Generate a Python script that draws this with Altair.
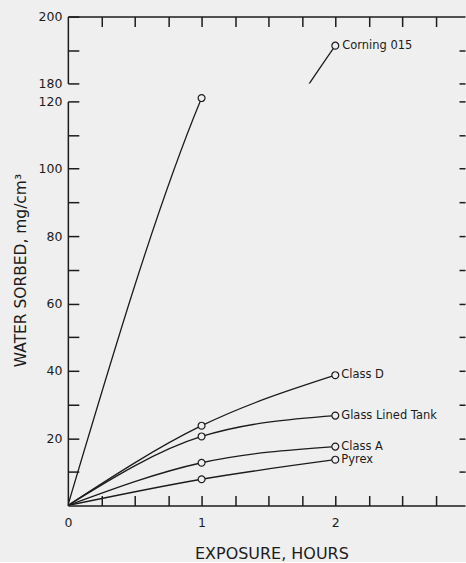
import altair as alt
import pandas as pd

# ---------------- data ----------------
hours = [0, 1, 2]
series_names = ["Corning 015", "Class D", "Glass Lined Tank", "Class A", "Pyrex"]
corning_015 = [0, 121.0, 191.3]
class_d = [0, 23.7, 38.7]
glass_lined_tank = [0, 20.5, 26.7]
class_a = [0, 12.7, 17.5]
pyrex = [0, 7.8, 13.6]
series_values = [corning_015, class_d, glass_lined_tank, class_a, pyrex]

# axis ticks / labels
x_tick_values = [0.25 * i for i in range(1, 12)]
x_label_values = [0, 1, 2]
lower_tick_values = list(range(10, 121, 10))
lower_label_values = [20, 40, 60, 80, 100, 120]
upper_tick_values = [180, 190, 200]
upper_right_tick_values = [180, 190]
upper_label_values = [180, 200]
lower_domain = [0, 120]
upper_domain = [180, 200]
x_domain = [0, 2.97]

rows = []
for name, vals in zip(series_names, series_values):
    for h, v in zip(hours, vals):
        rows.append({"series": name, "hours": h, "value": v})
df = pd.DataFrame(rows)

INK = "#1c1c1c"
BG = "#efefef"
FONT = "DejaVu Sans"

W = 398
H_UP = 67
H_LOW = 405

x_scale = alt.Scale(domain=x_domain, nice=False, zero=False)
y_low = alt.Scale(domain=lower_domain, nice=False, zero=False)
y_up = alt.Scale(domain=upper_domain, nice=False, zero=False)


def inward(orient, values, size, offset):
    return alt.Axis(orient=orient, values=values, domain=False, ticks=True,
                    tickSize=size, offset=offset, labels=False, title=None,
                    grid=False)


# ---------------- lower panel (0-120) ----------------
low_base = alt.Chart(df)

low_lines = low_base.mark_line(clip=True, interpolate="monotone", color=INK,
                               strokeWidth=1.3).encode(
    x=alt.X("hours:Q", scale=x_scale,
            axis=alt.Axis(orient="bottom", values=x_label_values, domain=True,
                          ticks=False, tickSize=0, labelPadding=11,
                          labelFlush=False, grid=False,
                          title="EXPOSURE, HOURS", titleX=204, titleY=56,
                          titleAlign="center", titleAngle=0,
                          titleBaseline="bottom")),
    y=alt.Y("value:Q", scale=y_low,
            axis=alt.Axis(orient="left", values=lower_label_values, domain=True,
                          ticks=False, tickSize=0, labelPadding=6,
                          labelFlush=False, grid=False,
                          title="WATER SORBED, mg/cm³", titleX=-42, titleY=169,
                          titleAngle=270, titleAlign="center",
                          titleBaseline="alphabetic", titleFontSize=15.5)),
    detail="series:N",
)

low_points = low_base.transform_filter(
    (alt.datum.hours > 0) & (alt.datum.value <= 125)
).mark_point(shape="circle", filled=True, fill=BG, stroke=INK, strokeWidth=1.2,
             size=48, opacity=1).encode(
    x=alt.X("hours:Q", scale=x_scale, axis=inward("bottom", x_tick_values, 10, -10)),
    y=alt.Y("value:Q", scale=y_low, axis=inward("left", lower_tick_values, 11, -11)),
)

low_text = low_base.transform_filter(
    (alt.datum.hours == 2) & (alt.datum.value <= 125)
).mark_text(align="left", baseline="middle", dx=6, font=FONT, fontSize=11.5,
            color=INK).encode(
    x=alt.X("hours:Q", scale=x_scale, axis=None),
    y=alt.Y("value:Q", scale=y_low, axis=inward("right", lower_tick_values, 6, -6)),
    text="series:N",
)

lower = alt.layer(low_lines, low_points, low_text).resolve_axis(
    x="independent", y="independent"
).properties(width=W, height=H_LOW)

# ---------------- upper panel (180-200) ----------------
up_base = alt.Chart(df).transform_filter(alt.datum.series == "Corning 015")

up_line = up_base.mark_line(clip=True, interpolate="monotone", color=INK,
                            strokeWidth=1.3).encode(
    x=alt.X("hours:Q", scale=x_scale,
            axis=alt.Axis(orient="top", domain=True, ticks=False, tickSize=0,
                          labels=False, title=None, grid=False)),
    y=alt.Y("value:Q", scale=y_up,
            axis=alt.Axis(orient="left", values=upper_label_values, domain=True,
                          ticks=False, tickSize=0, labelPadding=6,
                          labelFlush=False, grid=False, title=None)),
    detail="series:N",
)

up_point = up_base.transform_filter(alt.datum.value >= 180).mark_point(
    shape="circle", filled=True, fill=BG, stroke=INK, strokeWidth=1.2, size=48,
    opacity=1).encode(
    x=alt.X("hours:Q", scale=x_scale, axis=inward("top", x_tick_values, 10, -10)),
    y=alt.Y("value:Q", scale=y_up, axis=inward("left", upper_tick_values, 11, -11)),
)

up_text = up_base.transform_filter(alt.datum.value >= 180).mark_text(
    align="left", baseline="middle", dx=7, font=FONT, fontSize=11.5,
    color=INK).encode(
    x=alt.X("hours:Q", scale=x_scale, axis=None),
    y=alt.Y("value:Q", scale=y_up,
            axis=inward("right", upper_right_tick_values, 6, -6)),
    text="series:N",
)

upper = alt.layer(up_line, up_point, up_text).resolve_axis(
    x="independent", y="independent"
).properties(width=W, height=H_UP)

chart = alt.vconcat(upper, lower, spacing=18, bounds="flush").properties(
    background=BG,
    padding={"left": 14, "top": 10, "right": 0, "bottom": 0},
).configure_view(stroke=None).configure_axis(
    domainColor=INK, domainWidth=1.5, tickColor=INK, tickWidth=1.5,
    labelFont=FONT, labelFontSize=12.5, labelColor=INK,
    titleFont=FONT, titleFontSize=16, titleFontWeight="normal", titleColor=INK,
    grid=False,
)

chart.save("out.html", embed_options={"renderer": "svg", "actions": False})
